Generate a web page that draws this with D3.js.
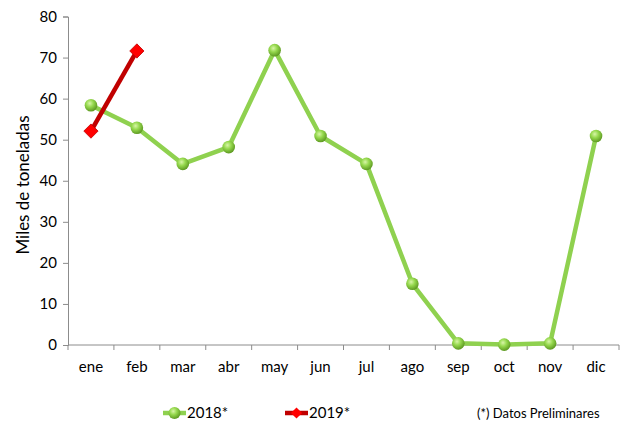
<!DOCTYPE html>
<html>
<head>
<meta charset="utf-8">
<script src="https://cdn.jsdelivr.net/npm/d3@7"></script>
<style>
  body { margin: 0; background: #fff; }
  text { font-family: Lato, "Open Sans", sans-serif; fill: #000; }
</style>
</head>
<body>
<div id="chart"></div>
<script>
// data
var months = ['ene', 'feb', 'mar', 'abr', 'may', 'jun', 'jul', 'ago', 'sep', 'oct', 'nov', 'dic'];
var values2018 = [58.4, 52.9, 44.1, 48.2, 71.8, 50.9, 44.1, 14.9, 0.4, 0.1, 0.4, 50.9];
var values2019 = [52.1, 71.6];
var yTicks = [0, 10, 20, 30, 40, 50, 60, 70, 80];

var width = 623, height = 423;
var margin = {top: 16.5, right: 4, bottom: 78, left: 68};

var svg = d3.select('#chart').append('svg')
  .attr('width', width)
  .attr('height', height);

var defs = svg.append('defs');
var grad = defs.append('radialGradient')
  .attr('id', 'ball')
  .attr('cx', '40%').attr('cy', '35%').attr('r', '65%');
grad.append('stop').attr('offset', '0%').attr('stop-color', '#d8f5a8');
grad.append('stop').attr('offset', '45%').attr('stop-color', '#96d94e');
grad.append('stop').attr('offset', '100%').attr('stop-color', '#5e9a22');

var x = d3.scaleBand()
  .domain(months)
  .range([margin.left, width - margin.right]);

var y = d3.scaleLinear()
  .domain([0, 80])
  .range([height - margin.bottom, margin.top]);

// y axis
var yAxis = svg.append('g')
  .attr('transform', 'translate(' + margin.left + ',0)')
  .call(d3.axisLeft(y).tickValues(yTicks).tickSize(5).tickPadding(6));
yAxis.select('.domain').attr('stroke', '#8c8c8c');
yAxis.selectAll('.tick line').attr('stroke', '#8c8c8c');
yAxis.selectAll('text').style('font-size', '15px');

// x axis: ticks at band edges
var xg = svg.append('g')
  .attr('transform', 'translate(0,' + y(0) + ')');
xg.append('line')
  .attr('x1', margin.left).attr('x2', width - margin.right)
  .attr('stroke', '#8c8c8c');
xg.selectAll('.edge')
  .data(months.concat(['end']))
  .enter().append('line')
  .attr('x1', function(d, i) { return margin.left + i * x.bandwidth(); })
  .attr('x2', function(d, i) { return margin.left + i * x.bandwidth(); })
  .attr('y1', 0).attr('y2', 5)
  .attr('stroke', '#8c8c8c');
xg.selectAll('.lbl')
  .data(months)
  .enter().append('text')
  .attr('x', function(d) { return x(d) + x.bandwidth() / 2; })
  .attr('y', 27)
  .attr('text-anchor', 'middle')
  .style('font-size', '15px')
  .text(function(d) { return d; });

// y title
svg.append('text')
  .attr('transform', 'translate(29,185) rotate(-90)')
  .attr('text-anchor', 'middle')
  .style('font-size', '17px')
  .text('Miles de toneladas');

var line = d3.line()
  .x(function(d, i) { return x(months[i]) + x.bandwidth() / 2; })
  .y(function(d) { return y(d); });

// 2018
svg.append('path')
  .datum(values2018)
  .attr('d', line)
  .attr('fill', 'none')
  .attr('stroke', '#8fd14f')
  .attr('stroke-width', 4.5)
  .attr('stroke-linejoin', 'round');

svg.selectAll('.ball')
  .data(values2018)
  .enter().append('circle')
  .attr('cx', function(d, i) { return x(months[i]) + x.bandwidth() / 2; })
  .attr('cy', function(d) { return y(d); })
  .attr('r', 6.3)
  .attr('fill', 'url(#ball)');

// 2019
svg.append('path')
  .datum(values2019)
  .attr('d', line)
  .attr('fill', 'none')
  .attr('stroke', '#c00000')
  .attr('stroke-width', 4.5);

var diamond = d3.symbol().type(d3.symbolDiamond2).size(130);
svg.selectAll('.dia')
  .data(values2019)
  .enter().append('path')
  .attr('d', diamond)
  .attr('transform', function(d, i) {
    return 'translate(' + (x(months[i]) + x.bandwidth() / 2) + ',' + y(d) + ')';
  })
  .attr('fill', '#ff0000')
  .attr('stroke', '#c00000')
  .attr('stroke-width', 0.8);

// legend
var legY = 413;
var lg = svg.append('g');
lg.append('line').attr('x1', 163).attr('x2', 186).attr('y1', legY).attr('y2', legY)
  .attr('stroke', '#8fd14f').attr('stroke-width', 4.5);
lg.append('circle').attr('cx', 174.5).attr('cy', legY).attr('r', 6).attr('fill', 'url(#ball)');
lg.append('text').attr('x', 187).attr('y', legY + 5).style('font-size', '15px').text('2018*');

lg.append('line').attr('x1', 285).attr('x2', 308).attr('y1', legY).attr('y2', legY)
  .attr('stroke', '#c00000').attr('stroke-width', 4.5);
lg.append('path').attr('d', d3.symbol().type(d3.symbolDiamond2).size(80))
  .attr('transform', 'translate(296.5,' + legY + ')')
  .attr('fill', '#ff0000');
lg.append('text').attr('x', 309).attr('y', legY + 5).style('font-size', '15px').text('2019*');

svg.append('text')
  .attr('x', 477).attr('y', legY + 5)
  .style('font-size', '13px')
  .text('(*) Datos Preliminares');
</script>
</body>
</html>
